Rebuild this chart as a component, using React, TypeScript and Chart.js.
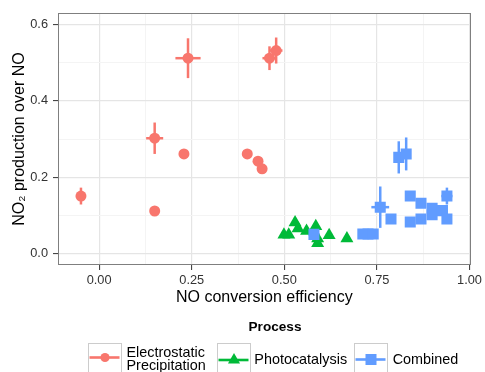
import React, { useEffect, useRef } from "react";
import { Chart, registerables } from "chart.js";
Chart.register(...registerables);

// ---- Data ----
const epX = [-0.049, 0.15, 0.15, 0.229, 0.24, 0.40, 0.429, 0.44, 0.46, 0.478];
const epY = [0.151, 0.112, 0.302, 0.261, 0.511, 0.261, 0.242, 0.222, 0.511, 0.531];
const epXErr = [0, 0, 0.023, 0, 0.034, 0, 0, 0, 0.019, 0.017];
const epYErr = [0.022, 0, 0.041, 0, 0.052, 0, 0, 0, 0.031, 0.034];

const pcX = [0.499, 0.512, 0.529, 0.537, 0.56, 0.585, 0.59, 0.59, 0.621, 0.669];
const pcY = [0.05, 0.05, 0.082, 0.066, 0.06, 0.072, 0.04, 0.028, 0.049, 0.04];

const cbX = [0.58, 0.712, 0.726, 0.74, 0.759, 0.788, 0.809, 0.829, 0.84, 0.84, 0.869, 0.869, 0.899, 0.899, 0.927, 0.939, 0.939];
const cbY = [0.051, 0.052, 0.052, 0.052, 0.122, 0.091, 0.252, 0.261, 0.151, 0.083, 0.132, 0.091, 0.119, 0.102, 0.113, 0.151, 0.091];
const cbXErr = [0.015, 0, 0, 0, 0.024, 0, 0, 0, 0, 0, 0, 0, 0, 0, 0, 0.015, 0];
const cbYErr = [0, 0, 0, 0, 0.054, 0, 0.042, 0.043, 0, 0, 0, 0, 0, 0, 0, 0.022, 0];

const xTickValues = [0, 0.125, 0.25, 0.375, 0.5, 0.625, 0.75, 0.875, 1.0];
const xMajorTicks = [0, 0.25, 0.5, 0.75, 1.0];
const yTickValues = [0, 0.1, 0.2, 0.3, 0.4, 0.5, 0.6];
const yMajorTicks = [0, 0.2, 0.4, 0.6];

const seriesNames = ["Electrostatic\nPrecipitation", "Photocatalysis", "Combined"];
const legendTitle = "Process";
const xTitle = "NO conversion efficiency";
const yTitle = "NO\u2082 production over NO";

const RED = "#F8766D";
const GREEN = "#00BA38";
const BLUE = "#619CFF";
const FONT = "'Liberation Sans', Arial, Helvetica, sans-serif";

const isMajor = (v: number, majors: number[]) => majors.some((m) => Math.abs(m - v) < 1e-9);
const toPts = (xs: number[], ys: number[]) => xs.map((x, i) => ({ x, y: ys[i] }));

const errorBarPlugin = {
  id: "errorBars",
  beforeDatasetsDraw(chart: any) {
    const { ctx, scales } = chart;
    const xs = scales.x, ys = scales.y;
    ctx.save();
    chart.data.datasets.forEach((ds: any) => {
      const xe: number[] = ds.xErr || [];
      const ye: number[] = ds.yErr || [];
      ctx.strokeStyle = ds.backgroundColor;
      ctx.lineWidth = 2.5;
      ctx.lineCap = "butt";
      ds.data.forEach((p: any, i: number) => {
        const px = xs.getPixelForValue(p.x);
        const py = ys.getPixelForValue(p.y);
        if (ye[i]) {
          ctx.beginPath();
          ctx.moveTo(px, ys.getPixelForValue(p.y - ye[i]));
          ctx.lineTo(px, ys.getPixelForValue(p.y + ye[i]));
          ctx.stroke();
        }
        if (xe[i]) {
          ctx.beginPath();
          ctx.moveTo(xs.getPixelForValue(p.x - xe[i]), py);
          ctx.lineTo(xs.getPixelForValue(p.x + xe[i]), py);
          ctx.stroke();
        }
      });
    });
    ctx.restore();
  },
  afterDatasetsDraw(chart: any) {
    const { ctx, chartArea } = chart;
    ctx.save();
    ctx.strokeStyle = "#7f7f7f";
    ctx.lineWidth = 1;
    ctx.strokeRect(
      Math.round(chartArea.left) + 0.5,
      Math.round(chartArea.top) + 0.5,
      Math.round(chartArea.right - chartArea.left) - 1,
      Math.round(chartArea.bottom - chartArea.top) - 1
    );
    ctx.restore();
  },
};

function Key({ color, shape, lineY }: { color: string; shape: string; lineY: number }) {
  const cx = 17;
  let marker: any = null;
  if (shape === "circle") marker = <circle cx={cx} cy={lineY} r={4.6} fill={color} />;
  if (shape === "triangle") {
    const r = 7;
    const pts = [
      [cx, lineY - r],
      [cx + r * 0.866, lineY + r / 2],
      [cx - r * 0.866, lineY + r / 2],
    ]
      .map((p) => p.join(","))
      .join(" ");
    marker = <polygon points={pts} fill={color} />;
  }
  if (shape === "square") marker = <rect x={cx - 5.5} y={lineY - 5.5} width={11} height={11} fill={color} />;
  return (
    <svg width={34} height={34} style={{ position: "absolute", left: 0, top: 0 }}>
      <line x1={1.5} x2={31.5} y1={lineY} y2={lineY} stroke={color} strokeWidth={2.6} />
      {marker}
    </svg>
  );
}

export default function App() {
  const ref = useRef<HTMLCanvasElement | null>(null);

  useEffect(() => {
    document.body.style.margin = "0";
    if (!ref.current) return;
    const gridColor = (ctx: any, majors: number[]) =>
      ctx.tick && isMajor(ctx.tick.value, majors) ? "#e5e5e5" : "#f4f4f4";
    const chart = new Chart(ref.current, {
      type: "scatter",
      data: {
        datasets: [
          {
            label: seriesNames[0],
            data: toPts(epX, epY),
            xErr: epXErr,
            yErr: epYErr,
            backgroundColor: RED,
            borderWidth: 0,
            pointStyle: "circle",
            pointRadius: 5.5,
            order: 2,
          } as any,
          {
            label: seriesNames[1],
            data: toPts(pcX, pcY),
            backgroundColor: GREEN,
            borderWidth: 0,
            pointStyle: "triangle",
            pointRadius: 7.5,
            order: 1,
          } as any,
          {
            label: seriesNames[2],
            data: toPts(cbX, cbY),
            xErr: cbXErr,
            yErr: cbYErr,
            backgroundColor: BLUE,
            borderWidth: 0,
            pointStyle: "rect",
            pointRadius: 7.8,
            order: 0,
          } as any,
        ],
      },
      options: {
        animation: false,
        responsive: false,
        events: [],
        layout: { padding: { left: 0, top: 13, right: 12, bottom: 62 } },
        plugins: { legend: { display: false }, tooltip: { enabled: false } },
        scales: {
          x: {
            type: "linear",
            min: -0.111,
            max: 1.003,
            afterBuildTicks: (axis: any) => {
              axis.ticks = xTickValues.map((value) => ({ value }));
            },
            afterFit: (axis: any) => {
              axis.height = 45;
            },
            border: { display: false },
            grid: {
              color: (ctx: any) => gridColor(ctx, xMajorTicks),
              lineWidth: (ctx: any) => (ctx.tick && isMajor(ctx.tick.value, xMajorTicks) ? 1.2 : 1),
              tickColor: (ctx: any) =>
                ctx.tick && isMajor(ctx.tick.value, xMajorTicks) ? "#333333" : "rgba(0,0,0,0)",
              tickLength: 5,
              tickWidth: 1,
            },
            ticks: {
              autoSkip: false,
              maxRotation: 0,
              padding: 3,
              color: "#333333",
              font: { family: FONT, size: 12.8 },
              callback: (v: any) => (isMajor(Number(v), xMajorTicks) ? Number(v).toFixed(2) : ""),
            },
            title: {
              display: true,
              text: xTitle,
              color: "#000000",
              font: { family: FONT, size: 16 },
              padding: { top: 0, bottom: 3 },
            },
          },
          y: {
            type: "linear",
            min: -0.029,
            max: 0.629,
            afterBuildTicks: (axis: any) => {
              axis.ticks = yTickValues.map((value) => ({ value }));
            },
            afterFit: (axis: any) => {
              axis.width = 58;
            },
            border: { display: false },
            grid: {
              color: (ctx: any) => gridColor(ctx, yMajorTicks),
              lineWidth: (ctx: any) => (ctx.tick && isMajor(ctx.tick.value, yMajorTicks) ? 1.2 : 1),
              tickColor: (ctx: any) =>
                ctx.tick && isMajor(ctx.tick.value, yMajorTicks) ? "#333333" : "rgba(0,0,0,0)",
              tickLength: 5,
              tickWidth: 1,
            },
            ticks: {
              autoSkip: false,
              padding: 5,
              color: "#333333",
              font: { family: FONT, size: 12.8 },
              callback: (v: any) => (isMajor(Number(v), yMajorTicks) ? Number(v).toFixed(1) : ""),
            },
            title: {
              display: true,
              text: yTitle,
              color: "#000000",
              font: { family: FONT, size: 16 },
              padding: { top: 10, bottom: 0 },
            },
          },
        },
      } as any,
      plugins: [errorBarPlugin],
    });
    return () => chart.destroy();
  }, []);

  const boxStyle = (left: number): any => ({
    position: "absolute",
    left,
    top: 343,
    width: 34,
    height: 34,
    boxSizing: "border-box",
    border: "1.5px solid #cccccc",
    background: "#ffffff",
  });
  const textStyle = (left: number, top: number): any => ({
    position: "absolute",
    left,
    top,
    fontSize: 14.4,
    lineHeight: "13.4px",
    color: "#000",
    whiteSpace: "pre",
  });

  return (
    <div
      style={{
        position: "absolute",
        left: 0,
        top: 0,
        width: 485,
        height: 372,
        overflow: "hidden",
        background: "#ffffff",
        fontFamily: FONT,
      }}
    >
      <canvas ref={ref} width={485} height={372} style={{ position: "absolute", left: 0, top: 0 }} />
      <div
        style={{
          position: "absolute",
          left: 200,
          width: 150,
          textAlign: "center",
          top: 318.5,
          fontSize: 13.6,
          lineHeight: "16px",
          fontWeight: "bold",
        }}
      >
        {legendTitle}
      </div>
      <div style={boxStyle(88)}>
        <div style={{ position: "relative", left: -1.5, top: -1.5 }}>
          <Key color={RED} shape="circle" lineY={14.5} />
        </div>
      </div>
      <div style={textStyle(126.5, 345.5)}>{seriesNames[0]}</div>
      <div style={boxStyle(217)}>
        <div style={{ position: "relative", left: -1.5, top: -1.5 }}>
          <Key color={GREEN} shape="triangle" lineY={17} />
        </div>
      </div>
      <div style={textStyle(254.3, 353)}>{seriesNames[1]}</div>
      <div style={boxStyle(354)}>
        <div style={{ position: "relative", left: -1.5, top: -1.5 }}>
          <Key color={BLUE} shape="square" lineY={16.5} />
        </div>
      </div>
      <div style={textStyle(392.7, 352.5)}>{seriesNames[2]}</div>
    </div>
  );
}
